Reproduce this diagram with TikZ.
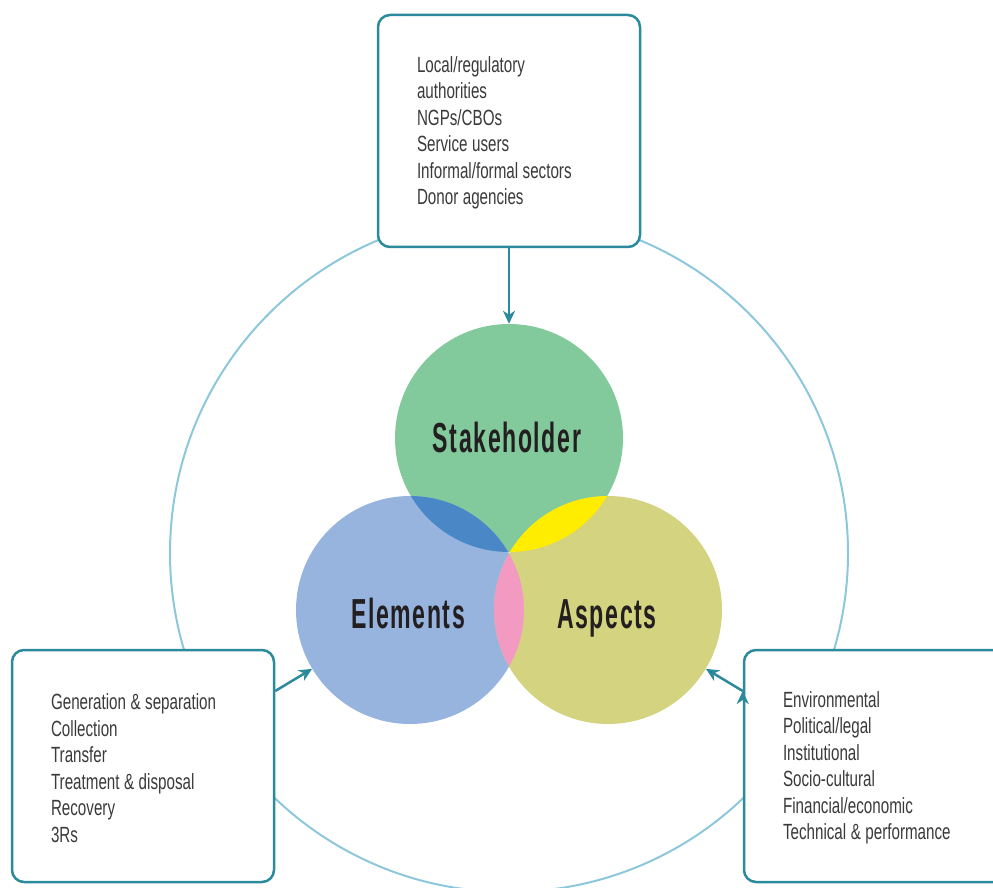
\documentclass[tikz,border=0pt]{standalone}
\usepackage{fontspec}
\usepackage{tikz}
\usetikzlibrary{arrows.meta}
\newfontfamily\bodyfont{Liberation Sans}[FakeStretch=0.69]
\newfontfamily\titlefont{Liberation Sans}[FakeStretch=0.55, LetterSpace=3.8]

\definecolor{stakegreen}{HTML}{82C99B}
\definecolor{elemblue}{HTML}{97B4DF}
\definecolor{aspyellow}{HTML}{D4D37F}
\definecolor{overlapblue}{HTML}{4A87C6}
\definecolor{overlapyellow}{HTML}{FFED00}
\definecolor{overlappink}{HTML}{F39AC2}
\definecolor{ringblue}{HTML}{8CC7DC}
\definecolor{boxteal}{HTML}{2B8A9B}
\definecolor{textgray}{HTML}{3A3A3A}
\definecolor{titleink}{HTML}{231F20}

\begin{document}
\begin{tikzpicture}[x=1pt,y=1pt]
  \tikzstyle{ring}=[circle, inner sep=0pt, minimum size=228pt]
  \tikzstyle{info}=[draw=boxteal, line width=2.5pt, rounded corners=12pt, fill=white,
                    minimum width=262pt, minimum height=232pt, text width=184pt,
                    inner xsep=39pt, text=textgray,
                    font=\bodyfont\fontsize{22}{26.5}\selectfont,
                    execute at begin node={\spaceskip=4.5pt\relax\rule{0pt}{20pt}}]
  \tikzstyle{title}=[anchor=base, text=titleink,
                     font=\titlefont\bfseries\fontsize{42}{42}\selectfont]
  \tikzstyle{feed}=[-{Stealth[length=13pt, width=12pt, inset=4pt]}, line width=2.5pt, draw=boxteal]

  \useasboundingbox (0,0) rectangle (993,887);
  \clip (0,0) rectangle (993,887);

  % big ring behind everything
  \draw[ringblue, line width=2pt] (509,334) circle (339);

  \node[ring, fill=stakegreen] (S) at (509,449) {};
  \node[ring, fill=elemblue]   (E) at (410,277) {};
  \node[ring, fill=aspyellow]  (A) at (608,277) {};

  % overlaps
  \begin{scope}
    \clip (S.center) circle (114);
    \fill[overlapblue]   (E.center) circle (114);
    \fill[overlapyellow] (A.center) circle (114);
  \end{scope}
  \begin{scope}
    \clip (E.center) circle (114);
    \fill[overlappink] (A.center) circle (114);
  \end{scope}
  \begin{scope}
    \clip (S.center) circle (114);
    \clip (E.center) circle (114);
    \fill[white] (A.center) circle (114);
  \end{scope}

  \node[title] (Slab) at (507,434) {Stakeholder};
  \node[title] (Elab) at (408,259) {Elements};
  \node[title] (Alab) at (607,259) {Aspects};

  \node[info] (stakebox) at (509,756) {Local/regulatory\\authorities\\NGPs/CBOs\\Service users\\Informal/formal sectors\\Donor agencies};
  \node[info] (elembox)  at (143,121) {Generation \& separation\\Collection\\Transfer\\Treatment \& disposal\\Recovery\\3Rs};
  \node[info] (aspbox)   at (875,121) {Environmental\\Political/legal\\Institutional\\Socio-cultural\\Financial/economic\\Technical \& performance};

  \path[feed] (stakebox) edge (S)
              ([yshift=75pt]elembox.east) edge (E)
              ([yshift=75pt]aspbox.west)  edge (A);
\end{tikzpicture}
\end{document}
